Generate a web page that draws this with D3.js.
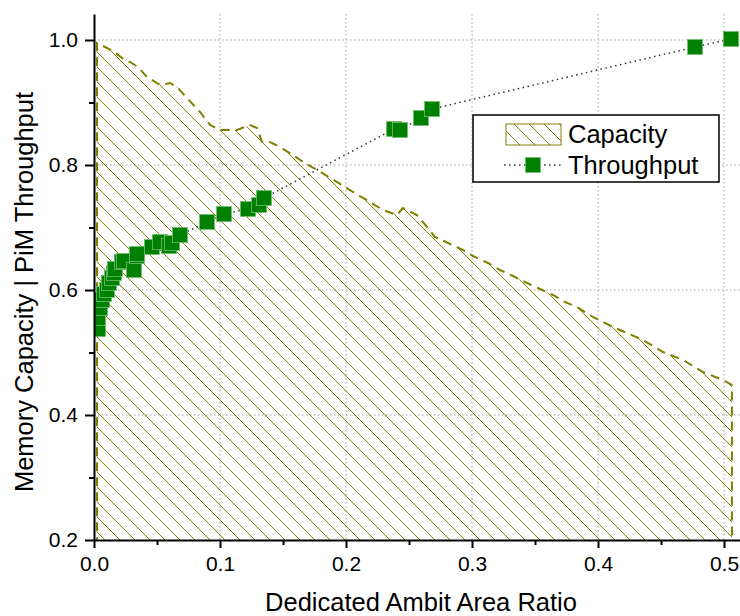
<!DOCTYPE html>
<html>
<head>
<meta charset="utf-8">
<script src="https://cdn.jsdelivr.net/npm/d3@7"></script>
<style>
  html, body { margin: 0; padding: 0; background: #fff; }
  svg { display: block; }
  text { font-family: "Liberation Sans", Arial, sans-serif; fill: #000; }
</style>
</head>
<body>
<svg id="chart" width="740" height="616"></svg>
<script>
// ---------- data ----------
const capacityX = [0.0024, 0.0151, 0.0222, 0.0286, 0.0349, 0.0421, 0.0524, 0.0603, 0.0659, 0.0738,
  0.0841, 0.0921, 0.1000, 0.1135, 0.1238, 0.1294, 0.1333, 0.1397, 0.1476, 0.1579,
  0.1659, 0.1770, 0.1889, 0.1992, 0.2095, 0.2190, 0.2294, 0.2405, 0.2452, 0.2563,
  0.2643, 0.2706, 0.2810, 0.2929, 0.3008, 0.3127, 0.3222, 0.3325, 0.3437, 0.3540,
  0.3643, 0.3738, 0.3833, 0.3960, 0.4119, 0.4357, 0.4516, 0.4675, 0.4833, 0.4992, 0.5063];
const capacityY = [0.9952, 0.9824, 0.9712, 0.9648, 0.9568, 0.9408, 0.928, 0.9312, 0.9248, 0.9072,
  0.8848, 0.864, 0.856, 0.856, 0.864, 0.8592, 0.8368, 0.8368, 0.8288, 0.816,
  0.8048, 0.792, 0.7776, 0.7648, 0.752, 0.7408, 0.728, 0.72, 0.7312, 0.72,
  0.7008, 0.6848, 0.6752, 0.664, 0.6544, 0.6432, 0.632, 0.6224, 0.6112, 0.6016,
  0.592, 0.5808, 0.5728, 0.5568, 0.5408, 0.52, 0.5008, 0.488, 0.4688, 0.456, 0.448];
const throughputX = [0.0032, 0.0032, 0.0048, 0.0063, 0.0079, 0.0103, 0.0119, 0.0143, 0.0159, 0.0167,
  0.0222, 0.0238, 0.0317, 0.0341, 0.0341, 0.046, 0.0524, 0.0595, 0.0619, 0.0683,
  0.0897, 0.1032, 0.1222, 0.131, 0.1349, 0.2381, 0.2429, 0.2595, 0.2683, 0.477, 0.5056];
const throughputY = [0.5376, 0.5552, 0.5712, 0.584, 0.5936, 0.600, 0.6112, 0.6192, 0.6272, 0.6336,
  0.6448, 0.6464, 0.632, 0.6544, 0.6576, 0.6688, 0.6768, 0.6704, 0.6752, 0.688,
  0.7088, 0.7216, 0.7296, 0.736, 0.7472, 0.8576, 0.856, 0.8752, 0.8896, 0.9888, 1.0016];
const xTicks = [0.0, 0.1, 0.2, 0.3, 0.4, 0.5];
const xMinorTicks = [0.05, 0.15, 0.25, 0.35, 0.45];
const yTicks = [0.2, 0.4, 0.6, 0.8, 1.0];
const yMinorTicks = [0.3, 0.5, 0.7, 0.9];
const seriesNames = ["Capacity", "Throughput"];
const xTitle = "Dedicated Ambit Area Ratio";
const yTitle = "Memory Capacity | PiM Throughput";

(function () {
// ---------- layout ----------
const pLeft = 94, pRight = 742.9, pTop = 14, pBottom = 540;
const olive = "#808000", green = "#008000";

const svg = d3.select("#chart");
const x = d3.scaleLinear().domain([0, 0.515]).range([pLeft, pRight]);
const y = d3.scaleLinear().domain([0.2, 1.0416]).range([pBottom, pTop]);

const defs = svg.append("defs");
const hs = 15;
const pat = defs.append("pattern").attr("id", "hatch")
  .attr("patternUnits", "userSpaceOnUse").attr("width", hs).attr("height", hs);
pat.append("path").attr("d", `M-3,-3 L${hs + 3},${hs + 3} M-3,${hs - 3} L3,${hs + 3} M${hs - 3},-3 L${hs + 3},3`)
  .attr("stroke", olive).attr("stroke-width", 1).attr("fill", "none")
  .attr("shape-rendering", "crispEdges");
defs.append("clipPath").attr("id", "plotclip").append("rect")
  .attr("x", pLeft + 1).attr("y", 0).attr("width", 740 - pLeft).attr("height", pBottom);

// grid
const grid = svg.append("g");
grid.selectAll("line.gx").data(xTicks.filter(d => d > 0)).join("line")
  .attr("x1", d => x(d)).attr("x2", d => x(d)).attr("y1", pTop).attr("y2", pBottom)
  .attr("stroke", "#a0a0a0").attr("stroke-width", 1).attr("stroke-dasharray", "1.5,2.5");
grid.selectAll("line.gy").data(yTicks.filter(d => d > 0.2)).join("line")
  .attr("x1", pLeft).attr("x2", 740).attr("y1", d => y(d)).attr("y2", d => y(d))
  .attr("stroke", "#a0a0a0").attr("stroke-width", 1).attr("stroke-dasharray", "1.5,2.5");

// capacity area
const capData = capacityX.map((d, i) => [d, capacityY[i]]);
const plot = svg.append("g").attr("clip-path", "url(#plotclip)");
const area = d3.area().x(d => x(d[0])).y0(y(0.2) + 5).y1(d => y(d[1]));
plot.append("path").datum(capData).attr("d", area).attr("fill", "url(#hatch)");
const outlinePts = [[capData[0][0], 0.19]].concat(capData, [[capData[capData.length - 1][0], 0.19]]);
plot.append("path").datum(outlinePts)
  .attr("d", d3.line().x(d => x(d[0])).y(d => y(d[1])))
  .attr("fill", "none").attr("stroke", olive).attr("stroke-width", 2).attr("stroke-dasharray", "9,6");

// throughput
const thrData = throughputX.map((d, i) => [d, throughputY[i]]);
plot.append("path").datum(thrData)
  .attr("d", d3.line().x(d => x(d[0])).y(d => y(d[1])))
  .attr("fill", "none").attr("stroke", "#333").attr("stroke-width", 1.5).attr("stroke-dasharray", "1.5,3.5");
const sq = 15;
plot.selectAll("rect.pt").data(thrData).join("rect")
  .attr("x", d => x(d[0]) - sq / 2).attr("y", d => y(d[1]) - sq / 2)
  .attr("width", sq).attr("height", sq)
  .attr("fill", green).attr("stroke", "#6fbf6f").attr("stroke-width", 0.8);

// axes
const xAxis = svg.append("g").attr("transform", `translate(0,${pBottom})`)
  .call(d3.axisBottom(x).tickValues(xTicks).tickFormat(d3.format(".1f")).tickSize(8).tickSizeOuter(0).tickPadding(8));
const xMinor = svg.append("g").attr("transform", `translate(0,${pBottom})`)
  .call(d3.axisBottom(x).tickValues(xMinorTicks).tickFormat("").tickSize(5).tickSizeOuter(0));
const yAxis = svg.append("g").attr("transform", `translate(${pLeft},0)`)
  .call(d3.axisLeft(y).tickValues(yTicks).tickFormat(d3.format(".1f")).tickSize(9).tickSizeOuter(0).tickPadding(7));
const yMinor = svg.append("g").attr("transform", `translate(${pLeft},0)`)
  .call(d3.axisLeft(y).tickValues(yMinorTicks).tickFormat("").tickSize(5).tickSizeOuter(0));
[xAxis, xMinor, yAxis, yMinor].forEach(g => {
  g.selectAll(".domain").attr("stroke", "#000").attr("stroke-width", 2);
  g.selectAll(".tick line").attr("stroke", "#000").attr("stroke-width", 2);
  g.selectAll("text").attr("font-size", 21).attr("font-family", "'Liberation Sans', Arial, sans-serif").attr("fill", "#000");
});
xMinor.select(".domain").remove();
yMinor.select(".domain").remove();

// titles
svg.append("text").attr("x", 421).attr("y", 611).attr("text-anchor", "middle")
  .attr("font-size", 25.5).text(xTitle);
svg.append("text").attr("transform", "translate(33,292) rotate(-90)").attr("text-anchor", "middle")
  .attr("font-size", 25.5).text(yTitle);

// legend
const lg = svg.append("g");
lg.append("rect").attr("x", 473).attr("y", 115).attr("width", 246).attr("height", 67)
  .attr("fill", "#fff").attr("stroke", "#000").attr("stroke-width", 1.5);
lg.append("rect").attr("x", 506).attr("y", 124).attr("width", 55).attr("height", 21)
  .attr("fill", "url(#hatch)").attr("stroke", olive).attr("stroke-width", 1);
lg.append("line").attr("x1", 504).attr("x2", 562).attr("y1", 165).attr("y2", 165)
  .attr("stroke", "#333").attr("stroke-width", 1.5).attr("stroke-dasharray", "1.5,3.5");
lg.append("rect").attr("x", 533 - sq / 2).attr("y", 165 - sq / 2).attr("width", sq).attr("height", sq)
  .attr("fill", green).attr("stroke", "#6fbf6f").attr("stroke-width", 0.8);
lg.selectAll("text.lt").data(seriesNames).join("text")
  .attr("x", 568).attr("y", (d, i) => 143 + i * 31).attr("font-size", 25.5).text(d => d);
})();
</script>
</body>
</html>
